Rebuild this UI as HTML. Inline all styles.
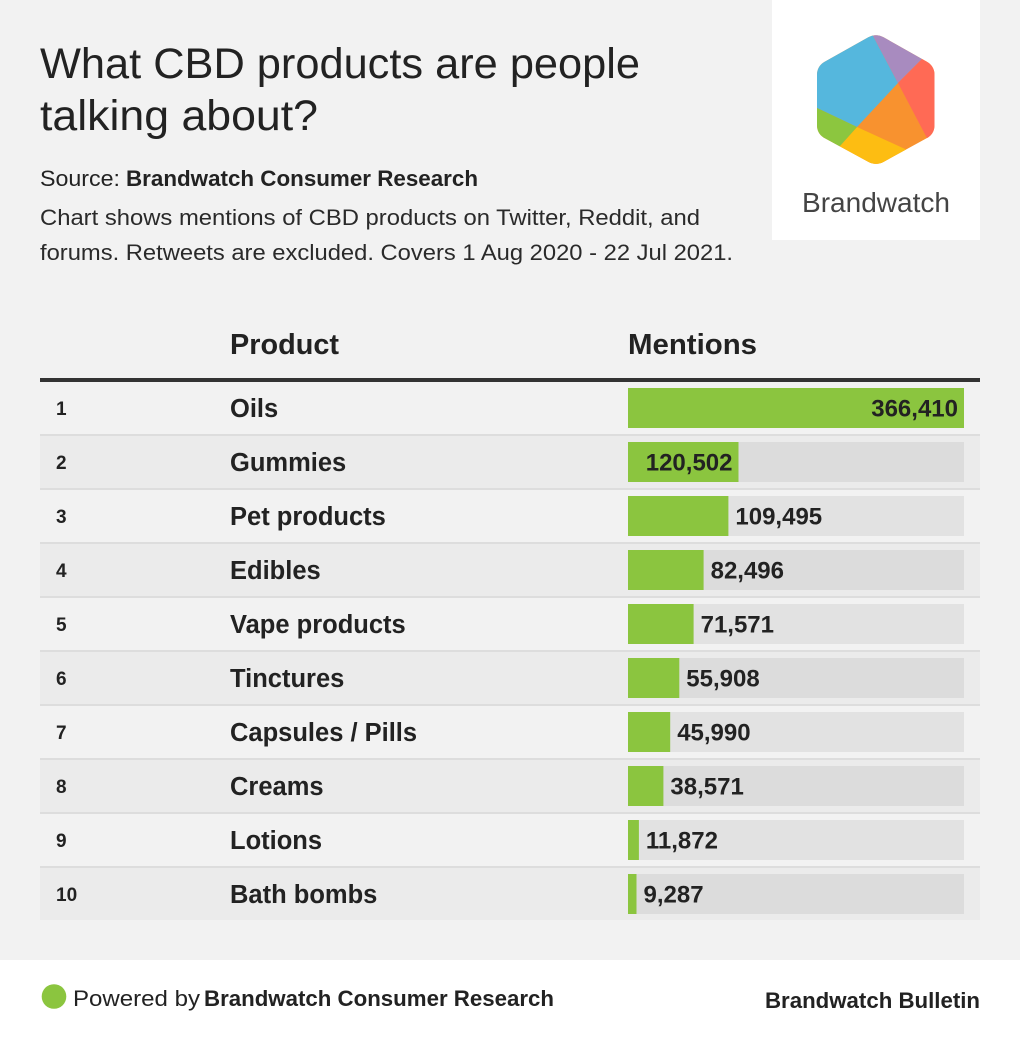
<!DOCTYPE html>
<html><head><meta charset="utf-8"><style>
html,body{margin:0;padding:0;background:#f2f2f2;}
svg{display:block;}
text{font-family:"Liberation Sans",Arial,sans-serif;fill:#222;}
.b{font-weight:bold;}
</style></head><body>
<svg width="1020" height="1042" viewBox="0 0 1020 1042" xmlns="http://www.w3.org/2000/svg">
<rect x="0" y="0" width="1020" height="960" fill="#f2f2f2"/>
<rect x="0" y="960" width="1020" height="82" fill="#ffffff"/>
<!-- logo box -->
<rect x="772" y="0" width="208" height="240" fill="#ffffff"/>
<defs>
<clipPath id="hex">
<path d="M883.8,37.4 L926.7,61.6 Q934.5,66 934.5,75 L934.5,125 Q934.5,134 926.6,138.3 L883.9,161.7 Q876,166 868.1,161.7 L824.9,138.3 Q817,134 817,125 L817,75 Q817,66 824.9,61.6 L868.1,37.4 Q876,33 883.8,37.4 Z"/>
</clipPath>
</defs>
<g clip-path="url(#hex)">
<rect x="790" y="15" width="200" height="180" fill="#f8922f"/>
<polygon points="800,20 864.6,20 898,83 857,127 800,100" fill="#55b7dd"/>
<polygon points="864.6,20 961,20 898,83" fill="#a88bbf"/>
<polygon points="898,83 961,20 990,20 990,180 949,180" fill="#ff6a55"/>
<polygon points="857,127 953,171 953,190 800.6,190" fill="#fdbd12"/>
<polygon points="857,127 800,100 790,100 790,190 800.6,190" fill="#8cc63f"/>
</g>
<text x="802" y="212" font-size="28" textLength="148" lengthAdjust="spacingAndGlyphs" style="fill:#444">Brandwatch</text>

<!-- title -->
<text x="40" y="78" font-size="43" textLength="600" lengthAdjust="spacingAndGlyphs">What CBD products are people</text>
<text x="40" y="130" font-size="43" textLength="278" lengthAdjust="spacingAndGlyphs">talking about?</text>
<text x="40" y="186" font-size="22" textLength="80" lengthAdjust="spacingAndGlyphs">Source:</text>
<text class="b" x="126" y="186" font-size="22" textLength="352" lengthAdjust="spacingAndGlyphs">Brandwatch Consumer Research</text>
<text x="40" y="225" font-size="22" textLength="660" lengthAdjust="spacingAndGlyphs" style="fill:#2a2a2a">Chart shows mentions of CBD products on Twitter, Reddit, and</text>
<text x="40" y="260" font-size="22" textLength="693" lengthAdjust="spacingAndGlyphs" style="fill:#2a2a2a">forums. Retweets are excluded. Covers 1 Aug 2020 - 22 Jul 2021.</text>

<!-- header -->
<text class="b" x="230" y="354" font-size="29" textLength="109" lengthAdjust="spacingAndGlyphs">Product</text>
<text class="b" x="628" y="354" font-size="29" textLength="129" lengthAdjust="spacingAndGlyphs">Mentions</text>
<rect x="40" y="378" width="940" height="4" fill="#333"/>

<!-- rows -->
<g>
<rect x="40" y="382" width="940" height="52" fill="#f2f2f2"/>
<rect x="40" y="434" width="940" height="2" fill="#dddddd"/>
<rect x="40" y="436" width="940" height="52" fill="#ebebeb"/>
<rect x="40" y="488" width="940" height="2" fill="#dddddd"/>
<rect x="40" y="490" width="940" height="52" fill="#f2f2f2"/>
<rect x="40" y="542" width="940" height="2" fill="#dddddd"/>
<rect x="40" y="544" width="940" height="52" fill="#ebebeb"/>
<rect x="40" y="596" width="940" height="2" fill="#dddddd"/>
<rect x="40" y="598" width="940" height="52" fill="#f2f2f2"/>
<rect x="40" y="650" width="940" height="2" fill="#dddddd"/>
<rect x="40" y="652" width="940" height="52" fill="#ebebeb"/>
<rect x="40" y="704" width="940" height="2" fill="#dddddd"/>
<rect x="40" y="706" width="940" height="52" fill="#f2f2f2"/>
<rect x="40" y="758" width="940" height="2" fill="#dddddd"/>
<rect x="40" y="760" width="940" height="52" fill="#ebebeb"/>
<rect x="40" y="812" width="940" height="2" fill="#dddddd"/>
<rect x="40" y="814" width="940" height="52" fill="#f2f2f2"/>
<rect x="40" y="866" width="940" height="2" fill="#dddddd"/>
<rect x="40" y="868" width="940" height="52" fill="#ebebeb"/>
</g>
<!-- tracks -->
<g>
<rect x="628" y="388" width="336" height="40" fill="#e2e2e2"/>
<rect x="628" y="442" width="336" height="40" fill="#dcdcdc"/>
<rect x="628" y="496" width="336" height="40" fill="#e2e2e2"/>
<rect x="628" y="550" width="336" height="40" fill="#dcdcdc"/>
<rect x="628" y="604" width="336" height="40" fill="#e2e2e2"/>
<rect x="628" y="658" width="336" height="40" fill="#dcdcdc"/>
<rect x="628" y="712" width="336" height="40" fill="#e2e2e2"/>
<rect x="628" y="766" width="336" height="40" fill="#dcdcdc"/>
<rect x="628" y="820" width="336" height="40" fill="#e2e2e2"/>
<rect x="628" y="874" width="336" height="40" fill="#dcdcdc"/>
</g>
<!-- bars -->
<g fill="#8bc53f">
<rect x="628" y="388" width="336" height="40"/>
<rect x="628" y="442" width="110.5" height="40"/>
<rect x="628" y="496" width="100.4" height="40"/>
<rect x="628" y="550" width="75.6" height="40"/>
<rect x="628" y="604" width="65.6" height="40"/>
<rect x="628" y="658" width="51.3" height="40"/>
<rect x="628" y="712" width="42.2" height="40"/>
<rect x="628" y="766" width="35.4" height="40"/>
<rect x="628" y="820" width="10.9" height="40"/>
<rect x="628" y="874" width="8.5" height="40"/>
</g>
<!-- ranks -->
<g class="b" font-size="19" font-weight="bold">
<text x="56" y="415">1</text>
<text x="56" y="469">2</text>
<text x="56" y="523">3</text>
<text x="56" y="577">4</text>
<text x="56" y="631">5</text>
<text x="56" y="685">6</text>
<text x="56" y="739">7</text>
<text x="56" y="793">8</text>
<text x="56" y="847">9</text>
<text x="56" y="901">10</text>
</g>
<!-- names -->
<g font-size="25.5" font-weight="bold">
<text x="230" y="417">Oils</text>
<text x="230" y="471">Gummies</text>
<text x="230" y="525">Pet products</text>
<text x="230" y="579">Edibles</text>
<text x="230" y="633">Vape products</text>
<text x="230" y="687">Tinctures</text>
<text x="230" y="741">Capsules / Pills</text>
<text x="230" y="795">Creams</text>
<text x="230" y="849">Lotions</text>
<text x="230" y="903">Bath bombs</text>
</g>
<!-- values -->
<g font-size="24" font-weight="bold">
<text x="958" y="416.7" text-anchor="end">366,410</text>
<text x="732.5" y="470.7" text-anchor="end">120,502</text>
<text x="735.4" y="524.7">109,495</text>
<text x="710.6" y="578.7">82,496</text>
<text x="700.6" y="632.7">71,571</text>
<text x="686.3" y="686.7">55,908</text>
<text x="677.2" y="740.7">45,990</text>
<text x="670.4" y="794.7">38,571</text>
<text x="645.9" y="848.7">11,872</text>
<text x="643.5" y="902.7">9,287</text>
</g>

<!-- footer -->
<circle cx="54" cy="996.5" r="12.3" fill="#8bc53f"/>
<text x="73" y="1006" font-size="22" textLength="127" lengthAdjust="spacingAndGlyphs">Powered by</text>
<text class="b" x="204" y="1006" font-size="22" textLength="350" lengthAdjust="spacingAndGlyphs">Brandwatch Consumer Research</text>
<text class="b" x="980" y="1008" font-size="22" text-anchor="end" textLength="215" lengthAdjust="spacingAndGlyphs">Brandwatch Bulletin</text>
</svg>
</body></html>
